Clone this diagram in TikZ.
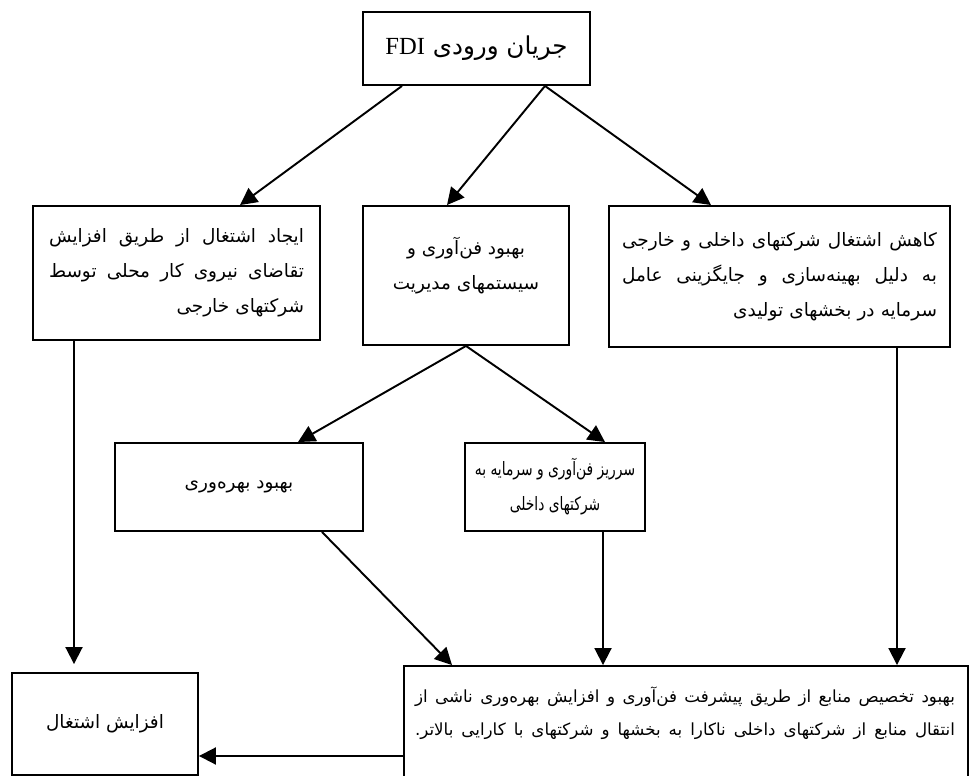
\documentclass[tikz,border=0pt]{standalone}
\usepackage{fontspec}
\newfontfamily\arabicfont[Script=Arabic]{DejaVu Sans}
\newfontfamily\arabicnarrow[Script=Arabic,FakeStretch=0.75]{DejaVu Sans}
\newfontfamily\latinfont{Liberation Serif}
\TeXXeTstate=1
\usetikzlibrary{arrows.meta,calc}
\newcommand\rtl[1]{\beginR #1\endR}
\newcommand\jline[1]{\makebox[\hsize][s]{\spaceskip=.3em plus 1fil minus .12em\beginR #1\endR}}
\tikzset{
  box/.style={draw, rectangle, inner sep=0pt},
  txt/.style={font=\arabicfont\fontsize{10.5}{20}\selectfont},
}
\begin{document}
\begin{tikzpicture}[x=0.02cm, y=-0.02cm, >={Triangle[length=3.4mm,width=3.4mm]}, line width=1.1pt]
            \useasboundingbox (0,0) rectangle (970,776);
            % top
            \node[box, minimum width=4.54cm, minimum height=1.46cm,
                  font=\arabicfont\fontsize{14}{16}\selectfont] (fdi) at (476.5,48.5)
                  {\rtl{جریان ورودی {\latinfont\beginL FDI\endL}}};
            % first row
            \node[box, txt, minimum width=5.74cm, minimum height=2.68cm,
                  text width=5.1cm, align=right] (emp) at (176.5,273)
                  {\jline{ایجاد اشتغال از طریق افزایش}\\
                   \jline{تقاضای نیروی کار محلی توسط}\\
                   \rtl{شرکتهای خارجی}};
            \node[box, minimum width=4.12cm, minimum height=2.78cm] (tech) at (466,275.5) {};
            \node[txt, align=center] (tech-t) at ($(tech.center)+(0,-10)$)
                  {\rtl{بهبود فن‌آوری و}\\ \rtl{سیستمهای مدیریت}};
            \node[box, txt, minimum width=6.82cm, minimum height=2.82cm,
                  text width=6.3cm, align=right] (red) at (779.5,276.5)
                  {\jline{کاهش اشتغال شرکتهای داخلی و خارجی}\\
                   \jline{به دلیل بهینه‌سازی و جایگزینی عامل}\\
                   \rtl{سرمایه در بخشهای تولیدی}};
            % second row
            \node[box, txt, minimum width=4.96cm, minimum height=1.76cm] (prod) at (239,487)
                  {\rtl{بهبود بهره‌وری}};
            \node[box, minimum width=3.6cm, minimum height=1.76cm, align=center,
                  font=\arabicnarrow\fontsize{10.5}{20}\selectfont] (spill) at (555,487)
                  {\rtl{سرریز فن‌آوری و سرمایه به}\\ \rtl{شرکتهای داخلی}};
            % bottom row
            \node[box, txt, minimum width=3.72cm, minimum height=2.04cm] (inc) at (105,724)
                  {\rtl{افزایش اشتغال}};
            \node[box, minimum width=11.28cm, minimum height=2.68cm] (alloc) at (686,733) {};
            \node[txt, font=\arabicfont\fontsize{9.5}{19}\selectfont, text width=10.8cm, align=right]
                  (alloc-t) at ($(alloc.north)+(-1,48)$)
                  {\jline{بهبود تخصیص منابع از طریق پیشرفت فن‌آوری و افزایش بهره‌وری ناشی از}\\
                   \jline{انتقال منابع از شرکتهای داخلی ناکارا به بخشها و شرکتهای با کارایی بالاتر.}};
            % arrows
            \draw[->] ($(fdi.south)+(-74.5,0)$) -- ($(emp.north)+(63.5,0)$);
            \draw[->] ($(fdi.south)+(68.5,0)$) -- ($(tech.north)+(-19,0)$);
            \draw[->] ($(fdi.south)+(68.5,0)$) -- ($(red.north)+(-68.5,0)$);
            \draw[->] (tech.south) -- ($(prod.north)+(59,0)$);
            \draw[->] (tech.south) -- ($(spill.north)+(50,0)$);
            \draw[->] ($(emp.south)+(-102.5,0)$) -- ($(inc.north)+(-31,-8)$);
            \draw[->] ($(prod.south)+(83,0)$) -- ($(alloc.north)+(-234,0)$);
            \draw[->] ($(spill.south)+(48,0)$) -- ($(alloc.north)+(-83,0)$);
            \draw[->] ($(red.south)+(117.5,0)$) -- ($(alloc.north)+(211,0)$);
            \draw[->] ($(alloc.west)+(0,23)$) -- ($(inc.east)+(0,32)$);
        \end{tikzpicture}
\end{document}
